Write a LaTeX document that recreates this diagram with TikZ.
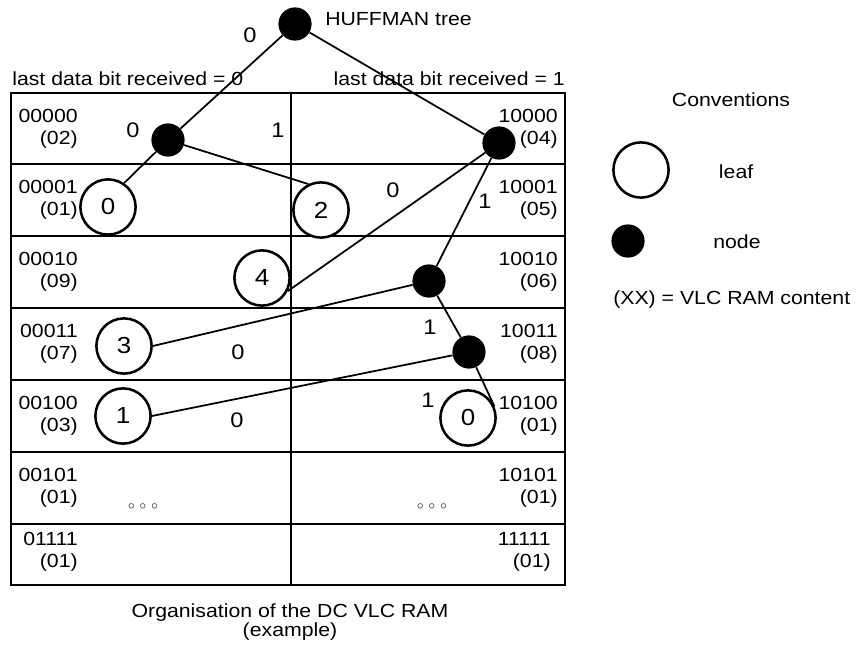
\documentclass[tikz,border=0pt]{standalone}
\usepackage{fontspec}
\setmainfont{Liberation Sans}[FakeStretch=1.12]
\begin{document}
\begin{tikzpicture}[x=0.025cm, y=-0.025cm, font=\fontsize{13.5}{16}\selectfont,
  knot/.style={circle, fill, inner sep=0pt, minimum size=0.83cm},
  leaf/.style={circle, draw, fill=white, line width=1.8pt, inner sep=0pt,
    minimum size=1.38cm, font=\fontsize{16.5}{17}\selectfont},
  bit/.style={font=\fontsize{15}{15}\selectfont},
  addr/.style={align=right, inner sep=0pt, anchor=east},
  branch/.style={line width=1.25pt}]

\useasboundingbox (0,0) rectangle (856,650);

\pgfmathsetmacro{\tabl}{11}
\pgfmathsetmacro{\tabr}{565}
\pgfmathsetmacro{\colx}{291}

% the DC VLC RAM
\draw[line width=2pt] (\tabl,93) rectangle (\tabr,585);
\draw[line width=1.2pt] (\colx,93) -- (\colx,585);
\draw[line width=1.2pt] (\tabl,164) -- (\tabr,164);
\draw[line width=1.2pt] (\tabl,236) -- (\tabr,236);
\draw[line width=1.2pt] (\tabl,308) -- (\tabr,308);
\draw[line width=1.2pt] (\tabl,380) -- (\tabr,380);
\draw[line width=1.2pt] (\tabl,452) -- (\tabr,452);
\draw[line width=1.2pt] (\tabl,524) -- (\tabr,524);

\node[anchor=west, inner sep=0pt] (head0) at (12,79) {last data bit received = 0};
\node[anchor=east, inner sep=0pt] (head1) at (\tabr,79) {last data bit received = 1};

% addresses, left half
\node[addr] (a0) at (78,129) {00000\\(02)};
\node[addr] (a1) at (78,200) {00001\\(01)};
\node[addr] (a2) at (78,272) {00010\\(09)};
\node[addr] (a3) at (78,344) {00011\\(07)};
\node[addr] (a4) at (78,416) {00100\\(03)};
\node[addr] (a5) at (78,488) {00101\\(01)};
\node[addr] (a6) at (78,552) {01111\\(01)};
% addresses, right half
\node[addr] (b0) at (558,129) {10000\\(04)};
\node[addr] (b1) at (558,200) {10001\\(05)};
\node[addr] (b2) at (558,272) {10010\\(06)};
\node[addr] (b3) at (558,344) {10011\\(08)};
\node[addr] (b4) at (558,416) {10100\\(01)};
\node[addr] (b5) at (558,488) {10101\\(01)};
\node[addr] (b6) at (551,552) {11111\\(01)};

\node (dots0) at (143,507) {\fontsize{9.5}{9.5}\selectfont$\circ\,\circ\,\circ$};
\node (dots1) at (432,507) {\fontsize{9.5}{9.5}\selectfont$\circ\,\circ\,\circ$};

% tree
\node[knot] (root) at (295,24) {};
\node[anchor=west, inner sep=0pt] (title) at (325,19) {HUFFMAN tree};
\node[knot] (n0) at (168,140) {};
\node[knot] (n1) at (499,143) {};
\node[knot] (n11) at (429,281) {};
\node[knot] (n111) at (469,352) {};
\node[leaf] (l00) at (108,207) {0};
\node[leaf] (l01) at (321,210) {2};
\node[leaf] (l10) at (262,278) {4};
\node[leaf] (l110) at (124,346) {3};
\node[leaf] (l1110) at (123,416) {1};
\node[leaf] (l1111) at (468,418) {0};

\draw[branch] (root) -- (n0);
\draw[branch] (root) -- (n1);
\draw[branch] (n0) -- (l00.56);
\draw[branch] (n0) -- (l01.116);
\draw[branch] (n1) -- (l10.-27);
\draw[branch] (n1) -- (n11);
\draw[branch] (n11) -- (l110.east);
\draw[branch] (n11) -- (n111);
\draw[branch] (n111) -- (l1110.east);
\draw[branch] (n111) -- (l1111.24);

\node[bit] (b-root) at (250,35) {0};
\node[bit] (b-n0a) at (133,130) {0};
\node[bit] (b-n0b) at (278,130) {1};
\node[bit] (b-n1a) at (393,190) {0};
\node[bit] (b-n1b) at (485,201) {1};
\node[bit] (b-n11a) at (238,352) {0};
\node[bit] (b-n11b) at (430,327) {1};
\node[bit] (b-n111a) at (237,420) {0};
\node[bit] (b-n111b) at (428,400) {1};

% conventions
\node (conv) at (731,100) {Conventions};
\node[leaf] (convleaf) at (641,170) {};
\node[anchor=west] (convleaft) at (714,172) {leaf};
\node[knot] (convknot) at (628,241) {};
\node (convknott) at (737,242) {node};
\node[anchor=west, inner sep=0pt] (convxx) at (613,300) {(XX) = VLC RAM content};

\node[align=center, font=\fontsize{13.5}{14}\selectfont] (caption) at (290,622)
  {Organisation of the DC VLC RAM\\(example)};
\end{tikzpicture}
\end{document}
